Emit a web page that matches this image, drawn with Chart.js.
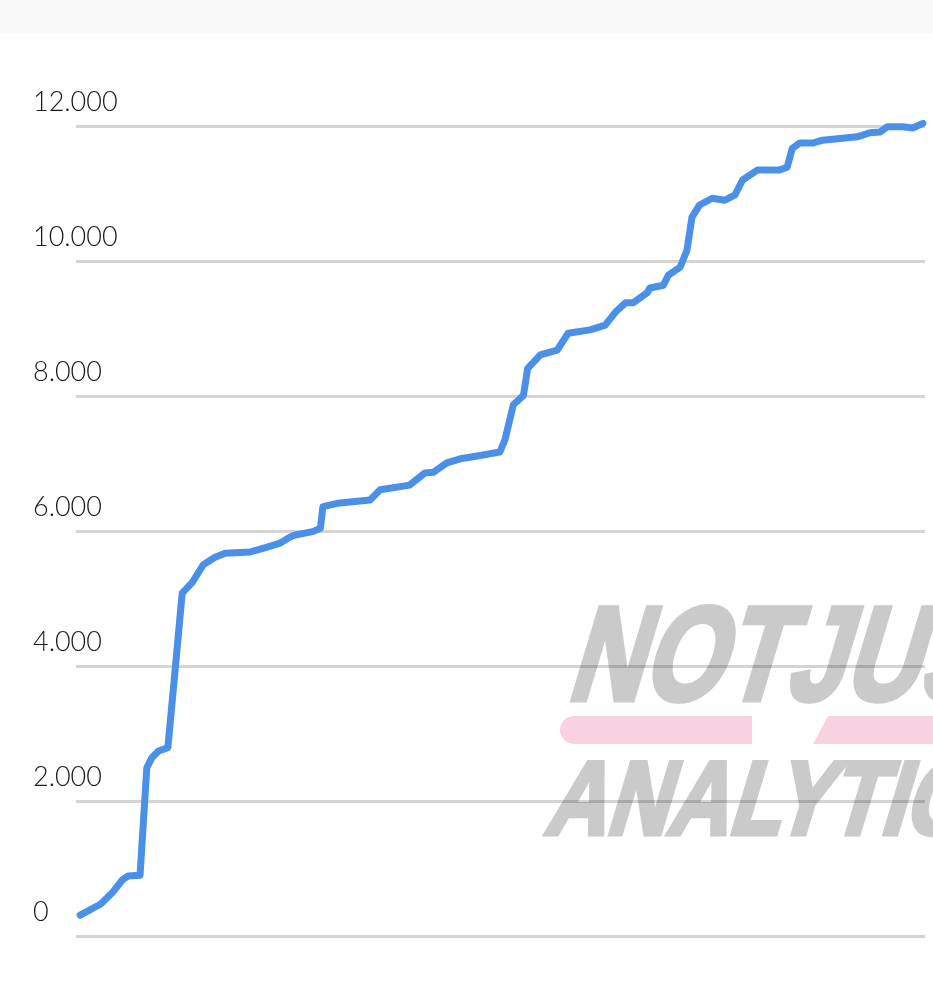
<!DOCTYPE html>
<html>
<head>
<meta charset="utf-8">
<script src="https://cdn.jsdelivr.net/npm/chart.js@4.4.1/dist/chart.umd.min.js"></script>
<style>
    body { margin: 0; background: linear-gradient(#f9f9f9 0, #f9f9f9 33px, #ffffff 33px); }
    #wrap { width: 933px; height: 986px; position: relative; }
</style>
</head>
<body>
<div id="wrap"><canvas id="total-chart"></canvas></div>
<script>

// day index along the x axis
const days = [0, 2.4, 3.8, 5.0, 5.7, 7.1, 7.9, 8.5, 9.3, 10.4, 11.3, 12.1, 13.3, 14.6, 16.0, 17.2,
    20.2, 22.2, 23.7, 24.9, 25.5, 27.6, 28.5, 28.8, 30.5, 34.4, 35.6, 39.1, 40.9, 41.9, 43.5,
    45.1, 46.6, 49.8, 50.4, 51.4, 52.6, 53.1, 54.6, 56.6, 57.9, 60.5, 62.3, 63.5, 64.7, 65.6,
    67.3, 67.6, 69.2, 69.8, 71.2, 72.0, 72.6, 73.5, 75.0, 76.5, 77.7, 78.6, 80.4, 83.0, 83.9,
    84.5, 85.4, 87.0, 88.1, 92.2, 93.7, 94.9, 95.8, 97.6, 98.8, 100];

// running total
const totals = [310, 470, 640, 830, 890, 900, 2490, 2640, 2740, 2790, 3990, 5080, 5240, 5500, 5610, 5670,
    5690, 5760, 5820, 5910, 5940, 5990, 6040, 6360, 6410, 6460, 6610, 6680, 6860, 6870, 7010,
    7070, 7100, 7170, 7350, 7870, 8010, 8410, 8610, 8680, 8930, 8980, 9050, 9240, 9380, 9380,
    9530, 9600, 9640, 9790, 9910, 10160, 10650, 10830, 10930, 10900, 10980, 11200, 11350, 11350, 11390,
    11670, 11750, 11750, 11790, 11840, 11900, 11910, 11990, 11990, 11970, 12040];

const yTicks = [0, 2000, 4000, 6000, 8000, 10000, 12000];

const watermarkTop = 'NOTJUS';
const watermarkBottom = 'ANALYTIC';

// dots as thousands separator, like the original
function formatTick(value) {
    return value.toLocaleString('de-DE');
}

// skewed, squeezed heavy text for the logo in the corner
function drawSlanted(ctx, text, x, baseline, fontSize, targetWidth) {
    ctx.save();
    ctx.font = 'bold ' + fontSize + 'px "Liberation Sans", Arial, sans-serif';
    const w = ctx.measureText(text).width;
    const sx = targetWidth / w;
    ctx.transform(sx, 0, -0.3, 1, x, baseline);
    ctx.lineWidth = 5;
    ctx.lineJoin = 'miter';
    ctx.strokeText(text, 3, -3);
    ctx.fillText(text, 3, -3);
    ctx.restore();
}

const watermark = {
    id: 'watermark',
    beforeDraw(chart) {
        const ctx = chart.ctx;
        ctx.save();

        // pink bars between the two rows
        ctx.fillStyle = '#f9d2e2';
        ctx.beginPath();
        ctx.moveTo(574, 716);
        ctx.lineTo(752, 716);
        ctx.lineTo(752, 744);
        ctx.lineTo(574, 744);
        ctx.arc(574, 730, 14, Math.PI / 2, Math.PI * 1.5);
        ctx.fill();
        ctx.beginPath();
        ctx.moveTo(828, 716);
        ctx.lineTo(940, 716);
        ctx.lineTo(940, 744);
        ctx.lineTo(813, 744);
        ctx.closePath();
        ctx.fill();

        ctx.fillStyle = '#cacaca';
        ctx.strokeStyle = '#cacaca';
        ctx.textBaseline = 'alphabetic';
        ctx.textAlign = 'left';
        drawSlanted(ctx, watermarkTop, 562, 703, 134, 420);
        drawSlanted(ctx, watermarkBottom, 540, 837, 104, 420);
        ctx.restore();
    }
};

new Chart(document.querySelector('#total-chart').getContext('2d'), {
    type: 'line',
    data: {
        datasets: [{
            data: days.map((d, i) => ({ x: d, y: totals[i] })),
            borderColor: '#4a90e8',
            borderWidth: 7,
            borderJoinStyle: 'round',
            borderCapStyle: 'round',
            pointRadius: 0,
            tension: 0,
            clip: false
        }]
    },
    options: {
        responsive: true,
        maintainAspectRatio: false,
        animation: false,
        layout: {
            padding: { left: 33, right: 8, top: 126, bottom: 50 }
        },
        plugins: {
            legend: { display: false },
            tooltip: { enabled: false }
        },
        scales: {
            x: {
                type: 'linear',
                min: -0.5,
                max: 100.25,
                display: false
            },
            y: {
                min: 0,
                max: 12000,
                afterBuildTicks: scale => {
                    scale.ticks = yTicks.map(v => ({ value: v }));
                },
                afterFit: scale => {
                    scale.width = 43;
                },
                border: { display: false },
                grid: {
                    color: 'rgba(0, 0, 0, 0.17)',
                    lineWidth: 3,
                    drawTicks: false
                },
                ticks: {
                    mirror: true,
                    labelOffset: -24,
                    padding: -43,
                    color: '#1a1a1a',
                    font: { family: 'Lato', size: 27, weight: '300' },
                    callback: value => formatTick(value)
                }
            }
        }
    },
    plugins: [watermark]
});

</script>
</body>
</html>
